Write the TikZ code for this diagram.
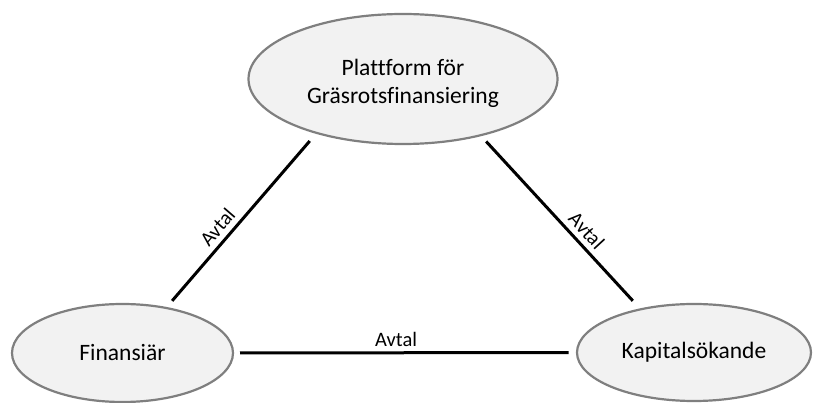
\documentclass[tikz,border=0pt]{standalone}
\usepackage{fontspec}
\setmainfont{Carlito}[Ligatures={NoCommon}]
\usetikzlibrary{shapes.geometric}
\definecolor{bubblefill}{HTML}{F2F2F2}
\definecolor{bubbleline}{HTML}{7F7F7F}
\tikzset{
  party/.style={ellipse, draw=bubbleline, line width=2.2pt, fill=bubblefill,
    inner sep=0pt, outer sep=0pt, align=center, font=\fontsize{23.5}{28.3}\selectfont},
  link/.style={line width=3pt, black},
  deal/.style={font=\fontsize{20.5}{24}\selectfont, inner sep=2pt},
}
\begin{document}
\begin{tikzpicture}[x=1pt,y=1pt]
  \useasboundingbox (0,0) rectangle (815,-403);
  % the three parties
  \node[party, minimum width=309pt, minimum height=130pt] (plat) at (403,-79)
    {\rule{0pt}{25pt}Plattform för\\Gräsrotsfinansiering};
  \node[party, minimum width=221pt, minimum height=98pt] (fin) at (122.5,-353) {Finansiär};
  \node[party, minimum width=234pt, minimum height=97pt] (kap) at (694,-352.5) {Kapitalsökande};
  % agreements between them
  \draw[link, shorten <=9.4pt, shorten >=10.7pt] (fin.46) -- (plat.212.6)
    node[deal, pos=0.41, sloped, above=3pt] {Avtal};
  \draw[link, shorten <=8.5pt, shorten >=11.6pt] (plat.324.4) -- (kap.141)
    node[deal, pos=0.6, sloped, above=3pt] {Avtal};
  \draw[link, shorten <=7pt, shorten >=8.5pt] (fin.east) -- (kap.west)
    node[deal, pos=0.474, above=3pt] {Avtal};
\end{tikzpicture}
\end{document}
